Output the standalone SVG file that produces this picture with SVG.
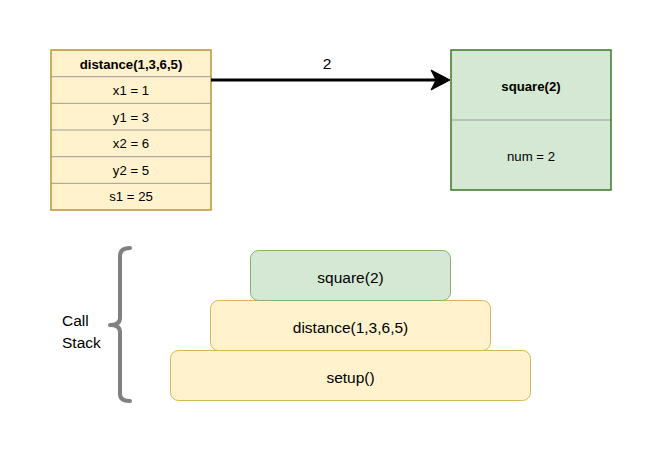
<svg xmlns="http://www.w3.org/2000/svg" width="661" height="454" viewBox="0 0 661 454">
<style>
text{font-family:"Liberation Sans",Arial,sans-serif;fill:#000;text-anchor:middle;dominant-baseline:central}
.t{font-size:13.2px}
.b{font-weight:bold}
.s{font-size:15.5px}
.l{text-anchor:start}
.yel{fill:#fff2cc}
.sep{stroke:#9a9a9a;stroke-width:1}
</style>
<rect width="661" height="454" fill="#fff"/>
<g id="distance-frame">
<rect x="51" y="50" width="160" height="160" class="yel"/>
<line x1="51" y1="76.7" x2="211" y2="76.7" class="sep"/>
<line x1="51" y1="103.3" x2="211" y2="103.3" class="sep"/>
<line x1="51" y1="130" x2="211" y2="130" class="sep"/>
<line x1="51" y1="156.7" x2="211" y2="156.7" class="sep"/>
<line x1="51" y1="183.3" x2="211" y2="183.3" class="sep"/>
<rect x="51" y="50" width="160" height="160" fill="none" stroke="#b8962e" stroke-width="1.5"/>
<text x="131" y="64" class="t b">distance(1,3,6,5)</text>
<text x="131" y="90.5" class="t">x1 = 1</text>
<text x="131" y="117" class="t">y1 = 3</text>
<text x="131" y="143.5" class="t">x2 = 6</text>
<text x="131" y="170" class="t">y2 = 5</text>
<text x="131" y="196.5" class="t">s1 = 25</text>
</g>
<g id="square-frame">
<rect x="451" y="50" width="160" height="140" fill="#d5e8d4"/>
<line x1="451" y1="120" x2="611" y2="120" class="sep"/>
<rect x="451" y="50" width="160" height="140" fill="none" stroke="#3d7a27" stroke-width="1.5"/>
<text x="531" y="86" class="t b">square(2)</text>
<text x="531" y="156" class="t">num = 2</text>
</g>
<g id="connectors">
<line x1="211" y1="80" x2="436" y2="80" stroke="#000" stroke-width="3"/>
<path d="M450,80 L431,70 L436,80 L431,90 Z" fill="#000" stroke="#000" stroke-width="1"/>
<text x="327" y="63" class="s">2</text>
</g>
<g id="call-stack-label">
<path d="M130,248 Q120,248 120,256 L120,318 Q120,325 110,325 Q120,325 120,332 L120,394 Q120,401 130,401" fill="none" stroke="#808080" stroke-width="4" stroke-linecap="round" stroke-linejoin="round"/>
<text x="62" y="320" class="s l">Call</text>
<text x="62" y="342" class="s l">Stack</text>
</g>
<g id="stack-setup">
<rect x="170.5" y="350.5" width="360" height="50" rx="8" fill="#fff2cc" stroke="#d6b656"/>
<text x="350.5" y="377" class="s">setup()</text>
</g>
<g id="stack-distance">
<rect x="210.5" y="300.5" width="280" height="50" rx="8" fill="#fff2cc" stroke="#d6b656"/>
<text x="350.5" y="327" class="s">distance(1,3,6,5)</text>
</g>
<g id="stack-square">
<rect x="250.5" y="250.5" width="200" height="50" rx="8" fill="#d5e8d4" stroke="#82b366"/>
<text x="350.5" y="277" class="s">square(2)</text>
</g>
</svg>
